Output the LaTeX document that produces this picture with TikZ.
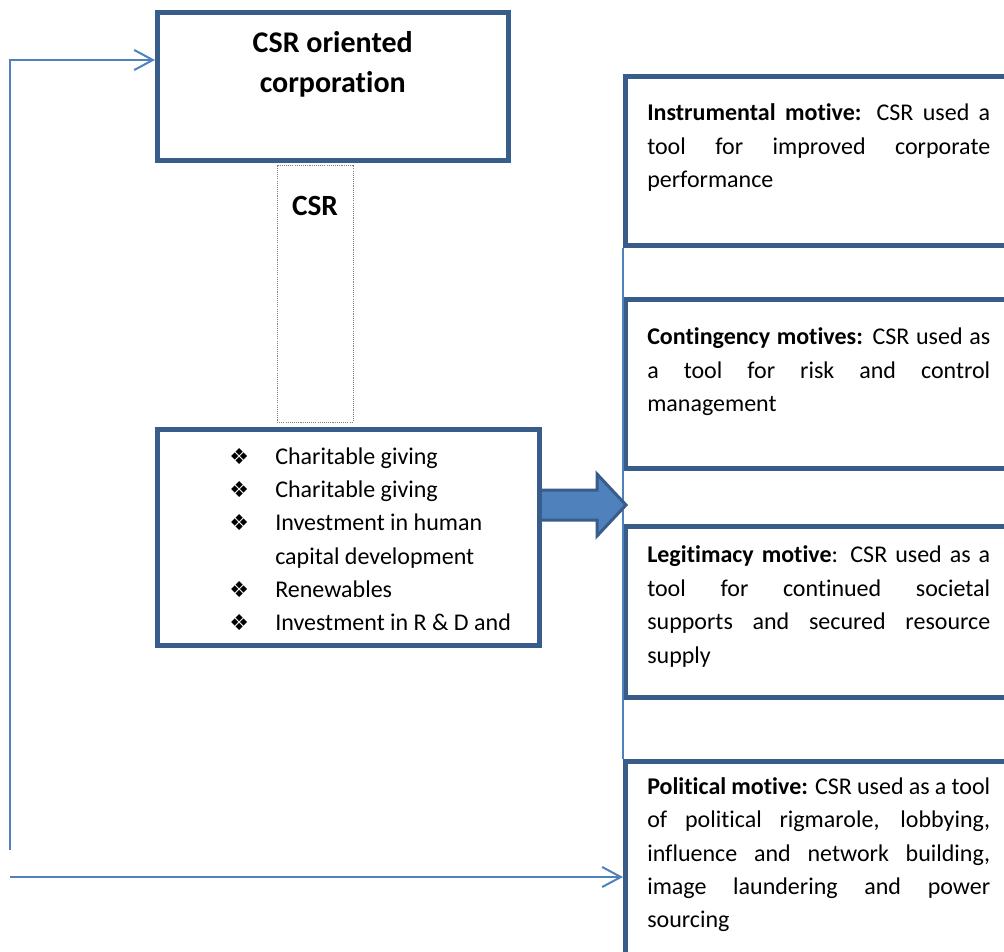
\documentclass[tikz,border=0pt]{standalone}
\usepackage{fontspec}
\setmainfont{Carlito}[Ligatures=NoCommon]
\newfontfamily\symfont{DejaVu Sans}
\usetikzlibrary{arrows.meta,calc,fit}
\definecolor{boxblue}{RGB}{56,93,138}
\definecolor{lineblue}{RGB}{79,129,189}
\newcommand\bul{\makebox[34.5pt][l]{\symfont\fontsize{16.5}{16.5}\selectfont ❖}}
\newcommand\jl[1]{\makebox[257.25pt][s]{#1}}
\begin{document}
\begin{tikzpicture}[x=0.75pt,y=-0.75pt,
  thickbox/.style={draw=boxblue, line width=3.75pt, inner sep=0pt},
  dotbox/.style={draw=gray, line width=0.6pt, dash pattern=on 0.8pt off 0.8pt, inner sep=0pt},
  conn/.style={draw=lineblue, line width=1.5pt, -{Straight Barb[length=14pt,width=15pt,line width=1.5pt]}},
  thinline/.style={draw=lineblue, line width=0.8pt},
  txt/.style={anchor=north west, inner sep=0pt},
  bigarrow/.style={fill=lineblue, draw=boxblue, line width=2.25pt}]
\useasboundingbox (0,0) rectangle (1004,951);
\clip (0,0) rectangle (1004,951);

% right-hand motive boxes
\node[thickbox, fit={(625.5,76.5) (1030,245.5)}] (m1) {};
\node[thickbox, fit={(625.5,299) (1030,468)}] (m2) {};
\node[thickbox, fit={(625.5,526) (1030,697)}] (m3) {};
\node[thickbox, fit={(625.5,761) (1030,1000)}] (m4) {};
\draw[thinline] (m1.south west) -- (m4.north west);

\node[txt] (t1) at (647,96.4) {\parbox[t]{257.25pt}{\fontsize{18}{25.3}\selectfont\strut
\jl{\textbf{Instrumental motive:} CSR used a}\\
\jl{tool for improved corporate}\\
performance}};
\node[txt] (t2) at (647,320.4) {\parbox[t]{257.25pt}{\fontsize{18}{25.3}\selectfont\strut
\jl{\textbf{Contingency motives:} CSR used as}\\
\jl{a tool for risk and control}\\
management}};
\node[txt] (t3) at (647,538.4) {\parbox[t]{257.25pt}{\fontsize{18}{25.3}\selectfont\strut
\jl{\textbf{Legitimacy motive}: CSR used as a}\\
\jl{tool for continued societal}\\
\jl{supports and secured resource}\\
supply}};
\node[txt] (t4) at (647,770.4) {\parbox[t]{257.25pt}{\fontsize{18}{25.1}\selectfont\strut
\jl{\textbf{Political motive:} CSR used as a tool}\\
\jl{of political rigmarole, lobbying,}\\
\jl{influence and network building,}\\
\jl{image laundering and power}\\
sourcing}};

% block arrow from activities to motives
\draw[bigarrow] (536,490) -- (597,490) -- (597,474) -- (626,505) -- (597,536) -- (597,520) -- (536,520) -- cycle;

% left-hand boxes
\node[thickbox, fit={(157.5,12.5) (508,160)}] (corp) {};
\node[anchor=north, inner sep=0pt] (corptext) at (332.75,24) {\parbox[t]{300pt}{\centering\fontsize{22.5}{30}\selectfont\bfseries\strut CSR oriented\\corporation}};

\node[dotbox, fit={(277,165) (353,422)}] (csr) {};
\node[anchor=base, inner sep=0pt] (csrtext) at (315,215) {\fontsize{22}{25}\selectfont\bfseries CSR};

\node[thickbox, fill=white, fit={(157.5,429.5) (539,645)}] (acts) {};
\node[txt] (items) at (229,440.7) {\parbox[t]{300pt}{\fontsize{18}{25}\selectfont\strut
\bul Charitable giving\\
\bul Charitable giving\\
\bul Investment in human\\
\hspace*{34.5pt}capital development\\
\bul Renewables\\
\bul Investment in R \& D and}};

% feedback connectors
\coordinate (fb1) at (10,850);
\coordinate (lvl) at (0,60);
\coordinate (fb2) at (10,877);
\draw[conn] (fb1) |- (corp.west |- lvl);
\draw[conn] (fb2) -- (fb2 -| m4.west);
\end{tikzpicture}
\end{document}
